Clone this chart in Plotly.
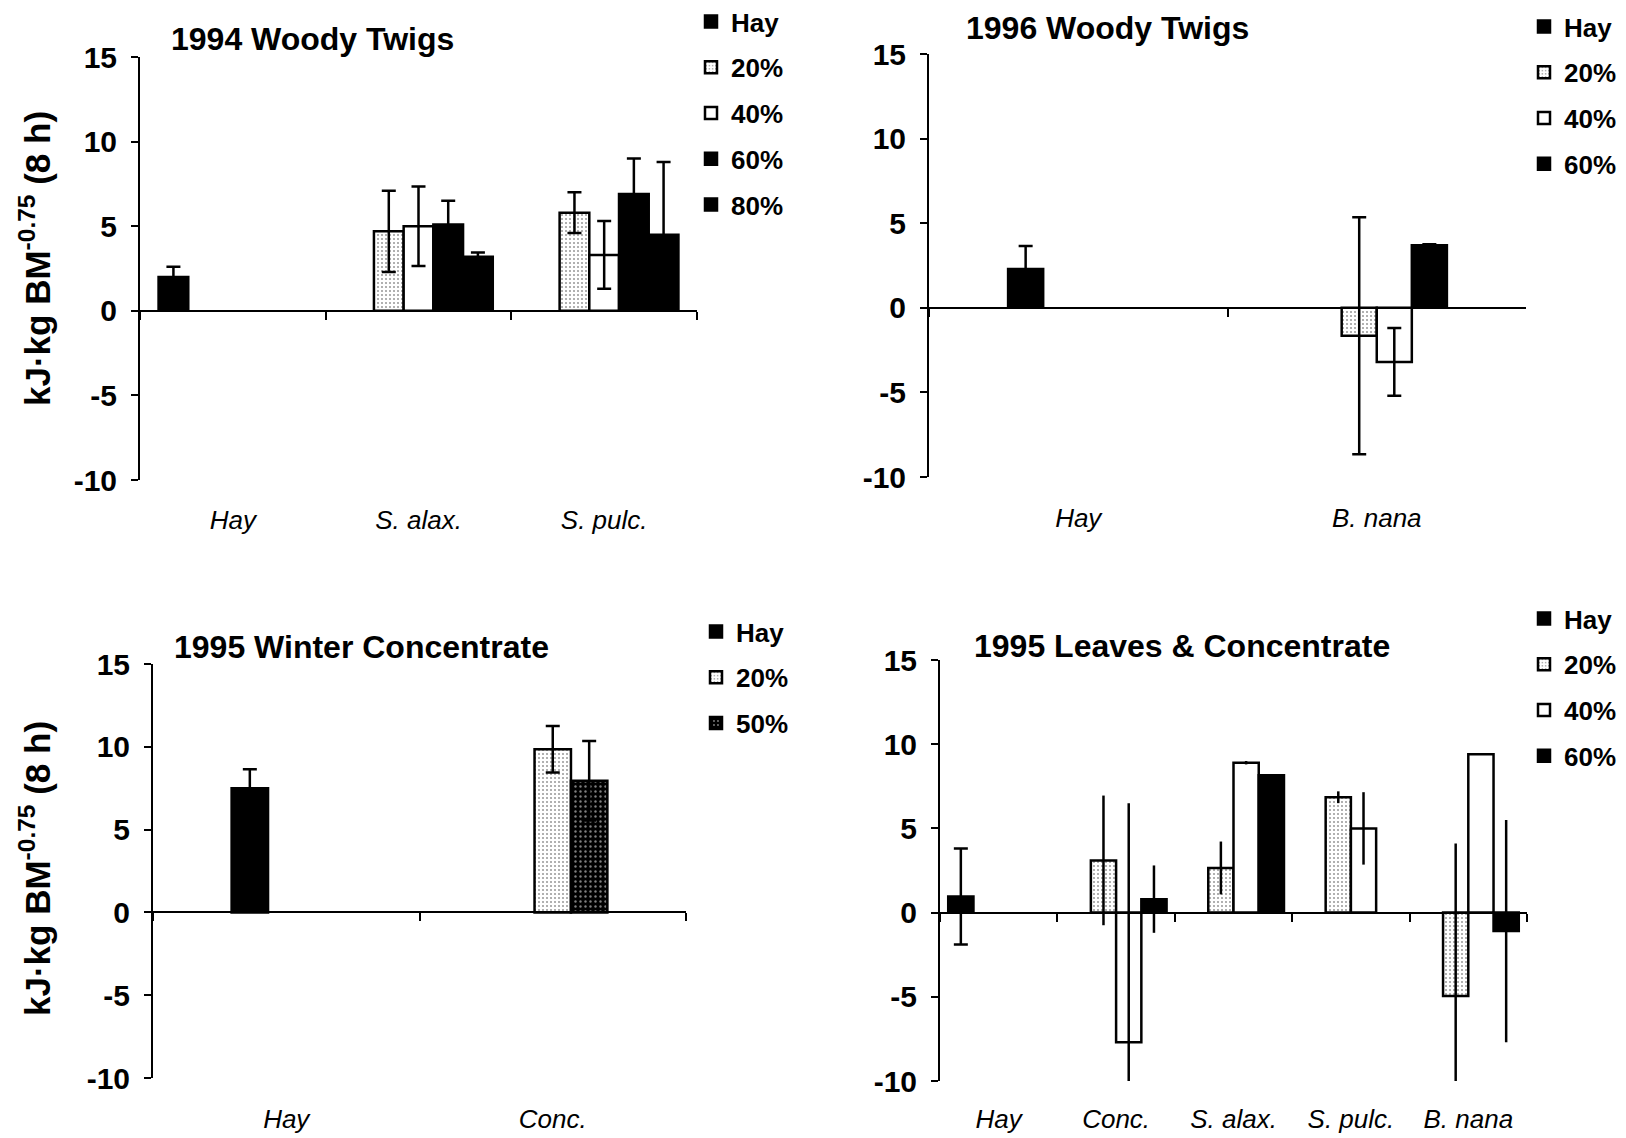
import plotly.graph_objects as go

# ---------------------------------------------------------------------------
# Data: energy balance, kJ·kg BM^-0.75 over 8 h (mean and error)
# ---------------------------------------------------------------------------

# 1994 Woody Twigs
CATS_1994 = ["Hay", "S. alax.", "S. pulc."]
HAY_1994 = [2.0, None, None]
HAY_1994_ERR = [0.6, None, None]
P20_1994 = [None, 4.7, 5.8]
P20_1994_ERR = [None, 2.4, 1.2]
P40_1994 = [None, 5.0, 3.3]
P40_1994_ERR = [None, 2.35, 2.0]
P60_1994 = [None, 5.1, 6.9]
P60_1994_ERR = [None, 1.4, 2.1]
P80_1994 = [None, 3.2, 4.5]
P80_1994_ERR = [None, 0.25, 4.3]

# 1996 Woody Twigs
CATS_1996 = ["Hay", "B. nana"]
HAY_1996 = [2.3, None]
HAY_1996_ERR = [1.35, None]
P20_1996 = [None, -1.65]
P20_1996_ERR = [None, 7.0]
P40_1996 = [None, -3.2]
P40_1996_ERR = [None, 2.0]
P60_1996 = [None, 3.7]
P60_1996_ERR = [None, 0.05]

# 1995 Winter Concentrate
CATS_1995W = ["Hay", "Conc."]
HAY_1995W = [7.5, None]
HAY_1995W_ERR = [1.15, None]
P20_1995W = [None, 9.85]
P20_1995W_ERR = [None, 1.4]
P50_1995W = [None, 7.95]
P50_1995W_ERR = [None, 2.4]

# 1995 Leaves & Concentrate
CATS_1995L = ["Hay", "Conc.", "S. alax.", "S. pulc.", "B. nana"]
HAY_1995L = [0.95, None, None, None, None]
HAY_1995L_ERR = [2.85, None, None, None, None]
P20_1995L = [None, 3.1, 2.65, 6.85, -4.95]
P20_1995L_ERR = [None, 3.85, 1.57, 0.35, 9.05]
P40_1995L = [None, -7.7, 8.9, 5.0, 9.4]
P40_1995L_ERR = [None, 14.2, 0.1, 2.15, 0.0]
P60_1995L = [None, 0.8, 8.15, None, -1.1]
P60_1995L_ERR = [None, 2.0, 0.0, None, 6.6]

Y_TICKS = [-10, -5, 0, 5, 10, 15]
Y_RANGE = [-10, 15]

# ---------------------------------------------------------------------------
# Styling
# ---------------------------------------------------------------------------
W, H = 1626, 1138
NARROW = "Liberation Sans Narrow, Arial Narrow, Liberation Sans, Arial, sans-serif"
SANS = "Liberation Sans, Arial, Helvetica, sans-serif"

SOLID = dict(color="black")
OPEN = dict(color="white")
STIPPLE = dict(color="white",
               pattern=dict(shape=".", fgcolor="#3a3a3a", bgcolor="white",
                            size=4, solidity=0.22))
SPECKLE = dict(color="black",
               pattern=dict(shape=".", fgcolor="white", bgcolor="black",
                            size=5, solidity=0.18))


def fx(px):
    return px / W


def fy(px):
    return 1 - px / H


def bar(name, cats, vals, errs, k, n, gap, axis_id, legend_id, fill, cap):
    """One series of a clustered bar group; slot k of n within each category."""
    w = (1 - gap) / n
    marker = dict(fill)
    marker["line"] = dict(color="black", width=2.5)
    return go.Bar(
        x=cats, y=vals, name=name,
        width=w, offset=-(1 - gap) / 2 + k * w,
        xaxis="x" + axis_id, yaxis="y" + axis_id,
        legend=legend_id, legendgroup=legend_id + name,
        marker=marker,
        error_y=dict(type="data", array=errs, visible=True, color="black",
                     thickness=2.5, width=cap),
        hoverinfo="x+y+name",
    )


fig = go.Figure()

# panel specs: axis id suffix, legend id, gap, category list, series
panels = [
    dict(aid="", leg="legend", gap=0.2, cats=CATS_1994,
         dom_x=(140, 697), dom_y=(57, 480),
         series=[("Hay", HAY_1994, HAY_1994_ERR, SOLID, 7),
                 ("20%", P20_1994, P20_1994_ERR, STIPPLE, 7),
                 ("40%", P40_1994, P40_1994_ERR, OPEN, 7),
                 ("60%", P60_1994, P60_1994_ERR, SOLID, 7),
                 ("80%", P80_1994, P80_1994_ERR, SOLID, 7)],
         title="1994 Woody Twigs", title_pos=(169, 39),
         legend_pos=(691, -2), label_y=523),
    dict(aid="2", leg="legend2", gap=0.53, cats=CATS_1996,
         dom_x=(929, 1526), dom_y=(54, 477),
         series=[("Hay", HAY_1996, HAY_1996_ERR, SOLID, 7),
                 ("20%", P20_1996, P20_1996_ERR, STIPPLE, 7),
                 ("40%", P40_1996, P40_1996_ERR, OPEN, 7),
                 ("60%", P60_1996, P60_1996_ERR, SOLID, 7)],
         title="1996 Woody Twigs", title_pos=(964, 28),
         legend_pos=(1524, 3), label_y=521),
    dict(aid="3", leg="legend3", gap=0.59, cats=CATS_1995W,
         dom_x=(153, 686), dom_y=(664, 1078),
         series=[("Hay", HAY_1995W, HAY_1995W_ERR, SOLID, 7),
                 ("20%", P20_1995W, P20_1995W_ERR, STIPPLE, 7),
                 ("50%", P50_1995W, P50_1995W_ERR, SPECKLE, 7)],
         title="1995 Winter Concentrate", title_pos=(172, 647),
         legend_pos=(696, 608), label_y=1122),
    dict(aid="4", leg="legend4", gap=0.14, cats=CATS_1995L,
         dom_x=(940, 1527), dom_y=(660, 1081),
         series=[("Hay", HAY_1995L, HAY_1995L_ERR, SOLID, 7),
                 ("20%", P20_1995L, P20_1995L_ERR, STIPPLE, 0),
                 ("40%", P40_1995L, P40_1995L_ERR, OPEN, 0),
                 ("60%", P60_1995L, P60_1995L_ERR, SOLID, 0)],
         title="1995 Leaves & Concentrate", title_pos=(972, 646),
         legend_pos=(1524, 595), label_y=1122),
]

layout = dict(
    width=W, height=H,
    margin=dict(l=0, r=0, t=0, b=0, autoexpand=False),
    paper_bgcolor="white", plot_bgcolor="rgba(0,0,0,0)",
    barmode="overlay", showlegend=True, annotations=[],
)

for p in panels:
    n = len(p["series"])
    for k, (name, vals, errs, fill, cap) in enumerate(p["series"]):
        fig.add_trace(bar(name, p["cats"], vals, errs, k, n, p["gap"],
                          p["aid"], p["leg"], fill, cap))

    y_top, y_bot = p["dom_y"]
    ydom = [fy(y_bot), fy(y_top)]
    # category axis crosses the value axis at zero
    zero_frac = (0 - Y_RANGE[0]) / (Y_RANGE[1] - Y_RANGE[0])
    zero_pos = ydom[0] + zero_frac * (ydom[1] - ydom[0])
    zero_px = y_bot - zero_frac * (y_bot - y_top)

    layout["xaxis" + p["aid"]] = dict(
        domain=[fx(p["dom_x"][0]), fx(p["dom_x"][1])],
        anchor="free", position=zero_pos,
        type="category", categoryorder="array", categoryarray=p["cats"],
        range=[-0.5, len(p["cats"]) - 0.5],
        showline=True, linecolor="black", linewidth=2,
        ticks="outside", tickson="boundaries", ticklen=8, tickwidth=2,
        tickcolor="black",
        ticklabelstandoff=int(p["label_y"] - zero_px - 26),
        tickfont=dict(family=NARROW, size=26, color="black", style="italic"),
        showgrid=False, zeroline=False, fixedrange=True,
    )
    layout["yaxis" + p["aid"]] = dict(
        domain=ydom, anchor="x" + p["aid"], range=Y_RANGE,
        tickvals=Y_TICKS, ticktext=[str(v) for v in Y_TICKS],
        showline=True, linecolor="black", linewidth=2,
        ticks="outside", ticklen=7, tickwidth=2, tickcolor="black",
        ticklabelstandoff=8,
        tickfont=dict(family=SANS, size=30, color="black", weight="bold"),
        showgrid=False, zeroline=False, fixedrange=True,
    )
    lx, ly = p["legend_pos"]
    layout[p["leg"]] = dict(
        x=fx(lx), y=fy(ly), xanchor="left", yanchor="top",
        traceorder="grouped", tracegroupgap=9,
        font=dict(family=NARROW, size=26, color="black", weight="bold"),
        bgcolor="rgba(0,0,0,0)", itemclick=False, itemdoubleclick=False,
    )
    tx, ty = p["title_pos"]
    layout["annotations"].append(dict(
        text=p["title"], x=fx(tx), y=fy(ty), xref="paper", yref="paper",
        xanchor="left", yanchor="middle", showarrow=False,
        font=dict(family=SANS, size=32, color="black", weight="bold"),
    ))

# shared value-axis title on the left-hand panels
for yc in (259, 869):
    layout["annotations"].append(dict(
        text="kJ·kg BM<sup>-0.75</sup> (8 h)",
        x=fx(35), y=fy(yc), xref="paper", yref="paper",
        xanchor="center", yanchor="middle", textangle=-90, showarrow=False,
        font=dict(family=SANS, size=35, color="black", weight="bold"),
    ))

fig.update_layout(**layout)
fig.write_html("out.html")
